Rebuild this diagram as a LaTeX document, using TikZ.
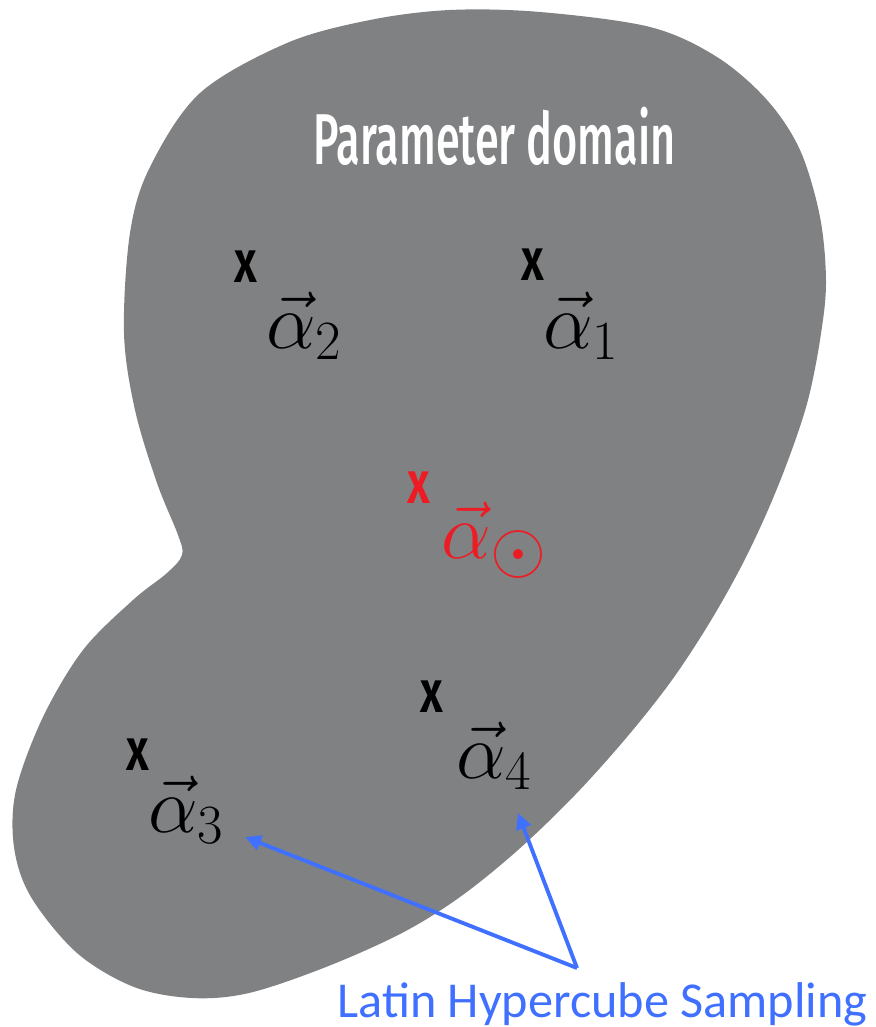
\RequirePackage{fix-cm}
\documentclass[tikz,border=0pt]{standalone}
\usepackage{fontspec}
\usepackage{amsmath}
\usetikzlibrary{arrows.meta}
\newfontfamily\domfont[FakeStretch=0.6]{Fira Sans Medium}
\newfontfamily\markfont[FakeStretch=0.75]{Fira Sans SemiBold}
\newfontfamily\lhsfont{Carlito}
\definecolor{domgray}{RGB}{128,129,131}
\definecolor{refred}{RGB}{237,28,36}
\definecolor{lhsblue}{RGB}{64,112,255}
\tikzset{
  title/.style={anchor=base west, inner sep=0, text=white, font=\domfont\fontsize{41}{48}\selectfont},
  xmark/.style={anchor=base, inner sep=0, font=\markfont\fontsize{34}{40}\selectfont},
  alab/.style={anchor=base west, inner sep=0, font=\fontsize{45}{54}\selectfont},
  lhs/.style={anchor=base west, inner sep=0, text=lhsblue, font=\lhsfont\fontsize{28.6}{34}\selectfont},
  la/.style={-{Triangle[length=3.2mm,width=3mm]}, draw=lhsblue, line width=2.2pt},
}
\begin{document}
\begin{tikzpicture}[x=0.02cm, y=-0.02cm]
\useasboundingbox (0,0) rectangle (875,1027);

% parameter domain
\fill[domgray] plot[smooth cycle, tension=0.55] coordinates {
  (450,10) (540,12) (650,27) (717,57) (767,100) (800,150) (820,217) (826,283)
  (820,340) (808,400) (790,455) (768,510) (742,565) (710,622) (672,680)
  (627,737) (575,795) (518,850) (460,897) (402,933) (326,967) (249,993)
  (192,998) (134,987) (77,953) (31,897) (14,847) (16,790) (43,717) (83,650)
  (133,600) (167,573) (182,555) (178,535) (157,483) (135,410) (124,333)
  (130,233) (150,167) (200,93) (287,43) (370,20)};
\node[title] (dom) at (313,165) {Parameter domain};

% samples
\node[xmark] (x2) at (246,282) {x};
\node[xmark] (x1) at (533,280) {x};
\node[xmark, text=refred] (x0) at (419,503) {x};
\node[xmark] (x4) at (432,712) {x};
\node[xmark] (x3) at (138,770) {x};

\node[alab] (a2) at (266,348) {$\vec{\alpha}_2$};
\node[alab] (a1) at (543,348) {$\vec{\alpha}_1$};
\node[alab, text=refred] (a0) at (441,558) {$\vec{\alpha}_{\scalebox{1.3}{$\scriptstyle\odot$}}$};
\node[alab] (a4) at (456,778) {$\vec{\alpha}_4$};
\node[alab] (a3) at (148,832) {$\vec{\alpha}_3$};

% LHS label
\node[lhs] (lhs) at (337,1017) {Latin Hypercube Sampling};
\coordinate (apex) at (577,968);
\coordinate (t3) at (245,837);
\coordinate (t4) at (518,813);
\draw[la] (apex) -- (t3);
\draw[la] (apex) -- (t4);
\end{tikzpicture}
\end{document}
